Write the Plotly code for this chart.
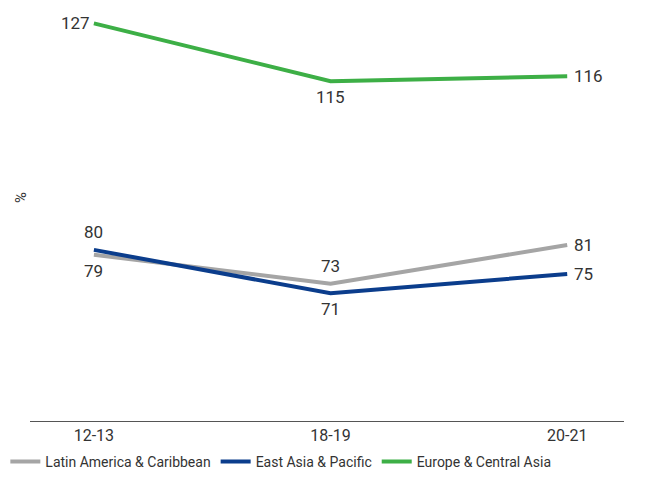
import plotly.graph_objects as go

categories = ["12-13", "18-19", "20-21"]
latin_america = [79, 73, 81]
east_asia = [80, 71, 75]
europe_central_asia = [127, 115, 116]

series_names = ["Latin America & Caribbean", "East Asia & Pacific", "Europe & Central Asia"]
colors = ["#a5a5a5", "#0b3d8c", "#3daf46"]
# label placement per point: "above", "below", "left", "right"
label_positions = [
    ["below", "above", "right"],
    ["above", "below", "right"],
    ["left", "below", "right"],
]

FONT = "Roboto, sans-serif"
LABEL_FONT = dict(size=17, color="#333333", family=FONT)

fig = go.Figure()
annotations = []
for name, vals, col, pos in zip(series_names, [latin_america, east_asia, europe_central_asia], colors, label_positions):
    fig.add_trace(go.Scatter(
        x=categories, y=vals, name=name, mode="lines",
        line=dict(color=col, width=4),
        cliponaxis=False, hoverinfo="skip",
    ))
    for c, v, p in zip(categories, vals, pos):
        a = dict(x=c, y=v, xref="x", yref="y", text=str(v), showarrow=False, font=LABEL_FONT)
        if p == "above":
            a.update(yshift=18, xanchor="center", yanchor="middle")
        elif p == "below":
            a.update(yshift=-16, xanchor="center", yanchor="middle")
        elif p == "left":
            a.update(xshift=-2, xanchor="right", yanchor="middle")
        else:
            a.update(xshift=5, xanchor="left", yanchor="middle")
        annotations.append(a)

annotations.append(dict(text="%", x=-0.017, y=0.536, xref="paper", yref="paper",
                        xanchor="center", yanchor="middle",
                        showarrow=False, textangle=90, font=dict(size=15, color="#333333", family=FONT)))

fig.update_layout(
    width=668, height=478,
    margin=dict(l=30, r=44, t=5, b=57, autoexpand=False),
    paper_bgcolor="white", plot_bgcolor="white",
    font=dict(family=FONT, color="#333333"),
    showlegend=True,
    legend=dict(orientation="h", xref="container", yref="container",
                x=0.008, xanchor="left", y=0.0, yanchor="bottom",
                font=dict(size=14, color="#333333", family=FONT),
                itemwidth=30, tracegroupgap=0),
    xaxis=dict(type="category", range=[-0.27, 2.24], showgrid=False, zeroline=False,
               showline=True, linecolor="#555555", linewidth=1, ticks="",
               tickfont=dict(size=16, color="#333333", family=FONT)),
    yaxis=dict(range=[44.5, 130.8], showgrid=False, zeroline=False, showline=False,
               showticklabels=False, ticks=""),
    annotations=annotations,
)

fig.write_html("out.html", config={"displayModeBar": False},
               post_script="document.body.style.margin='0';document.body.style.overflow='hidden';")
